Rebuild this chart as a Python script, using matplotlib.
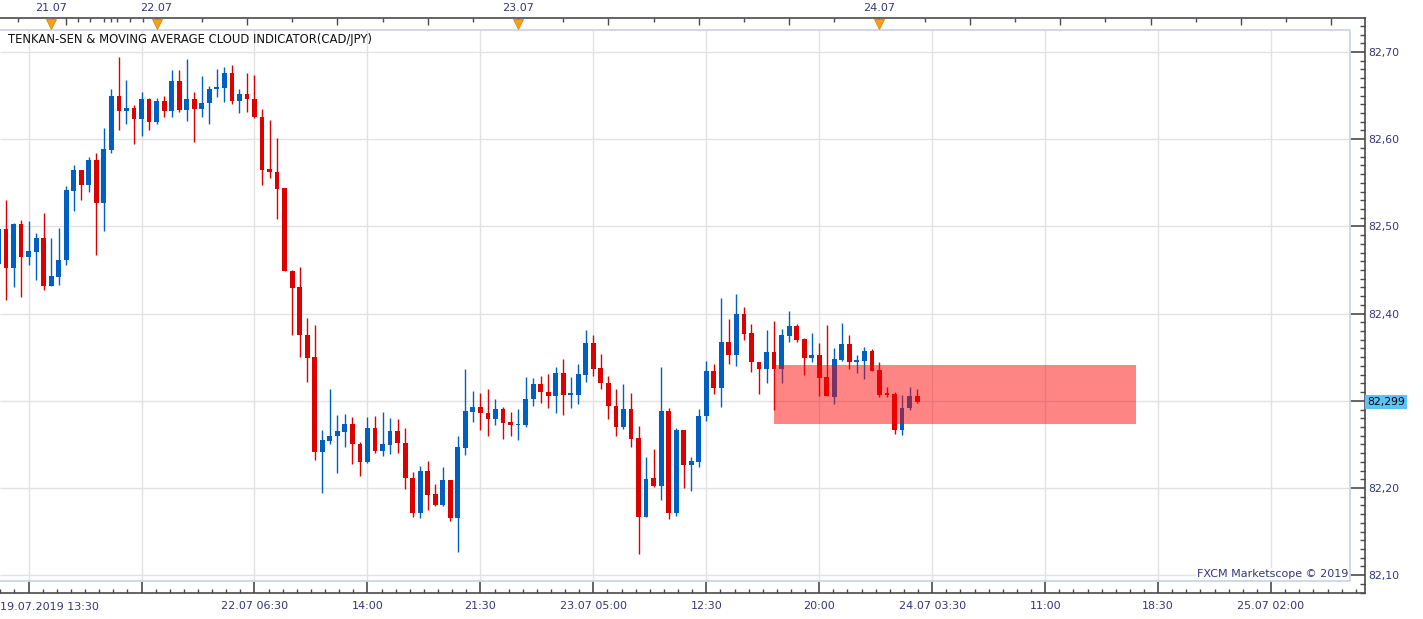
import numpy as np
import matplotlib.pyplot as plt
from matplotlib.patches import Rectangle
from matplotlib.transforms import blended_transform_factory

# 30 minute CAD/JPY bars, index 0 = 19.07.2019 13:30 gridline
first_bar = -4
opens = [82.457, 82.497, 82.452, 82.503, 82.465, 82.471, 82.487, 82.432, 82.442, 82.461,
         82.541, 82.565, 82.548, 82.576, 82.527, 82.588, 82.649, 82.632, 82.636, 82.623,
         82.646, 82.620, 82.644, 82.632, 82.667, 82.634, 82.646, 82.635, 82.641, 82.657,
         82.659, 82.676, 82.644, 82.652, 82.646, 82.626, 82.566, 82.562, 82.544, 82.449,
         82.430, 82.376, 82.350, 82.241, 82.254, 82.260, 82.264, 82.273, 82.251, 82.230,
         82.269, 82.242, 82.249, 82.265, 82.252, 82.212, 82.171, 82.219, 82.193, 82.181,
         82.209, 82.166, 82.246, 82.287, 82.293, 82.286, 82.279, 82.291, 82.276, 82.272,
         82.272, 82.302, 82.319, 82.310, 82.306, 82.332, 82.307, 82.307, 82.330, 82.366,
         82.338, 82.320, 82.294, 82.270, 82.291, 82.257, 82.167, 82.211, 82.202, 82.288,
         82.171, 82.267, 82.226, 82.230, 82.282, 82.334, 82.315, 82.368, 82.353, 82.400,
         82.378, 82.344, 82.337, 82.356, 82.336, 82.374, 82.386, 82.371, 82.349, 82.352,
         82.327, 82.304, 82.347, 82.365, 82.345, 82.346, 82.357, 82.335, 82.308, 82.308,
         82.266, 82.292, 82.305]
highs = [82.505, 82.530, 82.504, 82.507, 82.506, 82.493, 82.515, 82.487, 82.498, 82.546,
         82.570, 82.565, 82.580, 82.584, 82.613, 82.658, 82.694, 82.668, 82.639, 82.654,
         82.647, 82.647, 82.649, 82.679, 82.679, 82.692, 82.654, 82.673, 82.661, 82.681,
         82.683, 82.685, 82.658, 82.676, 82.674, 82.635, 82.622, 82.601, 82.544, 82.450,
         82.453, 82.395, 82.387, 82.267, 82.314, 82.284, 82.285, 82.281, 82.253, 82.281,
         82.283, 82.287, 82.280, 82.279, 82.269, 82.218, 82.225, 82.231, 82.205, 82.224,
         82.209, 82.260, 82.336, 82.311, 82.309, 82.314, 82.302, 82.293, 82.287, 82.291,
         82.327, 82.326, 82.329, 82.331, 82.339, 82.348, 82.327, 82.342, 82.381, 82.375,
         82.354, 82.329, 82.314, 82.319, 82.309, 82.271, 82.235, 82.245, 82.339, 82.292,
         82.269, 82.267, 82.235, 82.291, 82.346, 82.342, 82.418, 82.394, 82.422, 82.407,
         82.388, 82.345, 82.381, 82.391, 82.382, 82.403, 82.388, 82.372, 82.378, 82.366,
         82.387, 82.361, 82.389, 82.375, 82.353, 82.362, 82.359, 82.345, 82.316, 82.310,
         82.307, 82.316, 82.314]
lows = [82.420, 82.416, 82.431, 82.419, 82.456, 82.438, 82.427, 82.432, 82.433, 82.456,
        82.518, 82.530, 82.539, 82.467, 82.495, 82.584, 82.610, 82.618, 82.595, 82.604,
        82.610, 82.618, 82.625, 82.626, 82.631, 82.621, 82.597, 82.625, 82.618, 82.648,
        82.643, 82.640, 82.630, 82.631, 82.624, 82.548, 82.556, 82.509, 82.449, 82.376,
        82.350, 82.321, 82.232, 82.194, 82.250, 82.217, 82.247, 82.227, 82.214, 82.229,
        82.240, 82.237, 82.239, 82.240, 82.199, 82.167, 82.166, 82.175, 82.179, 82.179,
        82.162, 82.127, 82.238, 82.276, 82.266, 82.260, 82.272, 82.256, 82.260, 82.255,
        82.270, 82.294, 82.297, 82.292, 82.286, 82.284, 82.292, 82.296, 82.322, 82.329,
        82.314, 82.279, 82.260, 82.268, 82.247, 82.124, 82.167, 82.201, 82.186, 82.164,
        82.168, 82.200, 82.197, 82.224, 82.277, 82.308, 82.293, 82.342, 82.340, 82.370,
        82.333, 82.308, 82.320, 82.290, 82.320, 82.368, 82.368, 82.330, 82.345, 82.306,
        82.305, 82.296, 82.346, 82.337, 82.332, 82.325, 82.334, 82.304, 82.304, 82.262,
        82.261, 82.289, 82.298]
closes = [82.497, 82.452, 82.503, 82.465, 82.472, 82.487, 82.432, 82.443, 82.462, 82.542,
          82.565, 82.548, 82.576, 82.527, 82.589, 82.649, 82.632, 82.636, 82.623, 82.646,
          82.620, 82.644, 82.632, 82.667, 82.634, 82.646, 82.635, 82.642, 82.658, 82.660,
          82.676, 82.644, 82.652, 82.646, 82.625, 82.565, 82.562, 82.543, 82.449, 82.429,
          82.375, 82.349, 82.241, 82.255, 82.260, 82.265, 82.273, 82.250, 82.230, 82.269,
          82.242, 82.250, 82.265, 82.252, 82.211, 82.171, 82.219, 82.192, 82.181, 82.209,
          82.166, 82.247, 82.288, 82.293, 82.286, 82.279, 82.291, 82.275, 82.272, 82.273,
          82.302, 82.319, 82.310, 82.306, 82.332, 82.307, 82.308, 82.331, 82.366, 82.337,
          82.320, 82.294, 82.270, 82.291, 82.256, 82.167, 82.210, 82.202, 82.288, 82.171,
          82.267, 82.226, 82.231, 82.283, 82.334, 82.315, 82.368, 82.353, 82.400, 82.377,
          82.344, 82.337, 82.356, 82.336, 82.375, 82.386, 82.370, 82.349, 82.352, 82.326,
          82.305, 82.348, 82.365, 82.345, 82.347, 82.357, 82.334, 82.307, 82.307, 82.266,
          82.292, 82.305, 82.299]

time_ticks = list(range(0, 166, 15))
time_labels = ['19.07.2019 13:30', '', '22.07 06:30', '14:00', '21:30', '23.07 05:00',
               '12:30', '20:00', '24.07 03:30', '11:00', '18:30', '25.07 02:00']
day_bars = [3, 17, 65, 113]
day_labels = ['21.07', '22.07', '23.07', '24.07']
price_ticks = [82.10, 82.20, 82.30, 82.40, 82.50, 82.60, 82.70]
last_price = 82.299
cloud_start, cloud_end = 99, 147
cloud_low, cloud_high = 82.273, 82.341

title = 'TENKAN-SEN & MOVING AVERAGE CLOUD INDICATOR(CAD/JPY)'

# pixel layout of the original screenshot
W, H = 1423, 619
BAR_PX, X0_PX = 7.53, 28.6      # px per bar, px of bar 0
P_PX, Y_REF = 872.0, 52.0       # px per 1.0 JPY, px of 82.70


def k_at(px):
    return (px - X0_PX) / BAR_PX


def p_at(py):
    return 82.70 - (py - Y_REF) / P_PX


navy = '#35357d'
axis_col = '#4a4a4a'
grid_col = '#e2e2e2'
box_col = '#cbd6e3'
up_col = '#0060c2'
down_col = '#dd0000'

fig = plt.figure(figsize=(W / 100, H / 100), dpi=100)
ax = fig.add_axes([0, (H - 593) / H, 1365 / W, (593 - 18) / H])
ax.set_xlim(k_at(0), k_at(1365))
ax.set_ylim(p_at(593), p_at(18))

box_l, box_r = k_at(0), k_at(1350)
box_b, box_t = p_at(581), p_at(30)

# grid and chart panel border (no left edge)
ax.hlines(price_ticks, box_l, box_r, color=grid_col, lw=1, zorder=1)
ax.vlines(time_ticks, box_b, box_t, color=grid_col, lw=1, zorder=1)
ax.hlines([box_b, box_t], box_l, box_r, color=box_col, lw=1.3, zorder=2)
ax.vlines([box_r], box_b, box_t, color=box_col, lw=1.3, zorder=2)

# candles
o = np.array(opens)
h = np.array(highs)
lo = np.array(lows)
c = np.array(closes)
bars = np.arange(first_bar, first_bar + len(o))
cols = np.where(c >= o, up_col, down_col)
ax.vlines(bars, lo, h, colors=cols, lw=1.0, zorder=3)
body = np.maximum(np.abs(c - o), 0.0018)
ax.bar(bars, body, bottom=np.minimum(o, c), width=0.64, color=cols,
       lw=0, zorder=3)

# cloud zone
ax.add_patch(Rectangle((cloud_start, cloud_low), cloud_end - cloud_start,
                       cloud_high - cloud_low, fc='#ff0000', alpha=0.48,
                       lw=0, zorder=4))

# spines
for s in ['top', 'right', 'bottom']:
    ax.spines[s].set_color(axis_col)
    ax.spines[s].set_linewidth(1.2)
ax.spines['left'].set_visible(False)

# bottom time axis
ax.set_xticks(time_ticks, [''] + time_labels[1:])
minor_x = [t + j * 15 / 8 for t in range(-15, 180, 15) for j in range(1, 8)]
minor_x = [m for m in minor_x if k_at(0) < m < k_at(1365)]
ax.set_xticks(minor_x, minor=True)
ax.tick_params(axis='x', which='major', direction='in', length=8.6, width=1.2,
               color=axis_col, pad=6, labelsize=8, labelcolor=navy)
ax.tick_params(axis='x', which='minor', direction='in', length=2.9, width=1,
               color=axis_col)
ax.text(0.0, -9 / 575, time_labels[0], transform=ax.transAxes, ha='left',
        va='top', fontsize=8, color=navy)

# right price axis (82,30 is hidden behind the last price box)
ax.yaxis.tick_right()
ylabels = ['{:.2f}'.format(v).replace('.', ',') for v in price_ticks]
ylabels[price_ticks.index(82.30)] = ''
ax.set_yticks(price_ticks, ylabels)
ax.set_yticks(np.arange(82.08, 82.735, 0.01), minor=True)
ax.tick_params(axis='y', which='major', direction='in', length=10.8, width=1.2,
               color=axis_col, pad=2.5, labelsize=7.8, labelcolor=navy)
ax.tick_params(axis='y', which='minor', direction='in', length=3.6, width=1,
               color=axis_col)
ax.tick_params(axis='y', left=False)
yt = blended_transform_factory(ax.transAxes, ax.transData)
ax.text(1 + 2 / 1365, last_price, '{:.3f}'.format(last_price).replace('.', ','),
        transform=yt, ha='left', va='center', fontsize=7.8, color='black',
        bbox=dict(boxstyle='square,pad=0.2', fc='#5cc3f4', ec='none'))

# top day axis
xt = ax.get_xaxis_transform()
top_ticks = [t for t in range(5, 178, 6)]
ax.vlines([t for t in top_ticks if (t - 5) % 12 != 0], 1, 1 - 4 / 575,
          transform=xt, color=axis_col, lw=1, zorder=5)
ax.vlines([t for t in top_ticks if (t - 5) % 12 == 0], 1, 1 - 7 / 575,
          transform=xt, color=axis_col, lw=1, zorder=5)
ax.vlines([-1.4, 6.5, 8.2, 10, 11.7, 13.4, 15.2], 1, 1 - 4 / 575,
          transform=xt, color=axis_col, lw=1, zorder=5)
ax.plot(day_bars, [1 - 5.5 / 575] * len(day_bars), 'v', transform=xt,
        ms=7, mfc='#f5a11c', mec='#e08a00', mew=0.6, clip_on=False, zorder=6)
for d, lab in zip(day_bars, day_labels):
    ax.text(d, 1 + 9.7 / 575, lab, transform=xt, ha='center', va='center',
            fontsize=8, color=navy)

# texts
ax.text(8 / 1365, 1 - 22 / 575, title, transform=ax.transAxes, ha='left',
        va='center', fontsize=8.4, color='#111111', zorder=6)
ax.text(1348 / 1365, 1 - 556 / 575, 'FXCM Marketscope \u00a9 2019',
        transform=ax.transAxes, ha='right', va='center', fontsize=8,
        color=navy, zorder=6,
        bbox=dict(boxstyle='square,pad=0.1', fc='white', ec='none'))

fig.savefig('out.png', dpi=100)
